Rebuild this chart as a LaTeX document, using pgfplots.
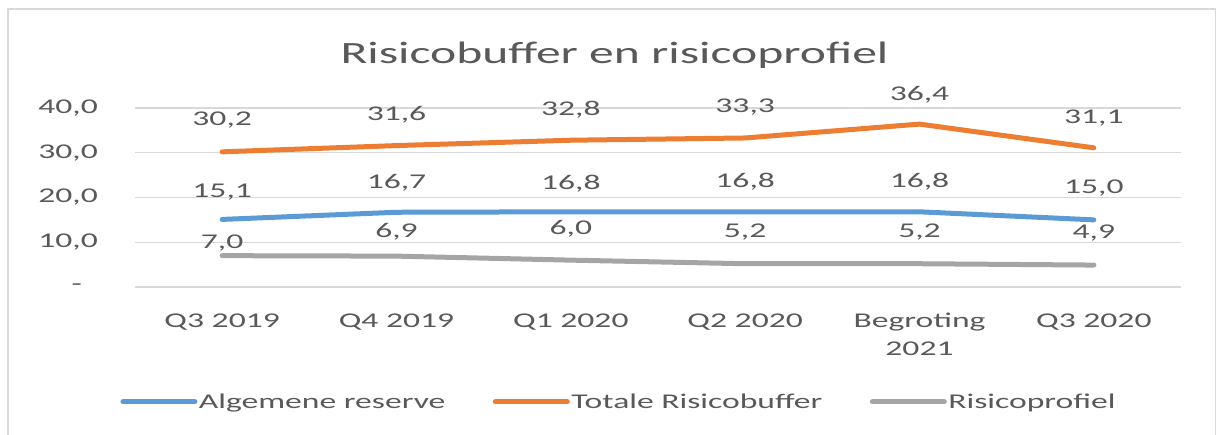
\documentclass[border=0pt]{standalone}
\usepackage{pgfplots}
\pgfplotsset{compat=1.18}
\usepackage{pgfplotstable}
\usepackage{fontspec}
\setmainfont{Carlito}[FakeStretch=1.6]
\definecolor{cblue}{HTML}{5B9BD5}
\definecolor{corange}{HTML}{ED7D31}
\definecolor{cgray}{HTML}{A5A5A5}
\definecolor{ctext}{HTML}{595959}
\definecolor{cgrid}{HTML}{D9D9D9}

\pgfplotstableread{
x a b c
0 15.1 30.2 7.0
1 16.7 31.6 6.9
2 16.8 32.8 6.0
3 16.8 33.3 5.2
4 16.8 36.4 5.2
5 15.0 31.1 4.9
}\datatable

\pgfplotstableread{
x y lab
0 21.2 15,1
1 23.2 16,7
2 23.2 16,8
3 23.5 16,8
4 23.5 16,8
5 22.1 15,0
}\lblA

\pgfplotstableread{
x y lab
0 37.3 30,2
1 38.4 31,6
2 39.6 32,8
3 40.2 33,3
4 42.9 36,4
5 37.8 31,1
}\lblB

\pgfplotstableread{
x y lab
0 9.8 7,0
1 12.3 6,9
2 13.0 6,0
3 12.3 5,2
4 12.3 5,2
5 12.1 4,9
}\lblC

\newcommand{\st}{\rule{0pt}{16pt}}

\begin{document}
\begin{tikzpicture}
\path[use as bounding box] (0pt,0pt) rectangle (1217pt,435pt);
\draw[cgrid, line width=1.5pt] (8pt,-10pt) -- (8pt,426pt) -- (1215.5pt,426pt) -- (1215.5pt,-10pt);
\node[text=ctext, font=\fontsize{31}{37}\selectfont, inner sep=0pt] at (614.5pt,380pt) {Risicobuffer en risicoprofiel};
\begin{axis}[
  scale only axis, width=1046pt, height=179pt,
  at={(135pt,148pt)}, anchor=south west,
  xmin=-0.5, xmax=5.5, ymin=0, ymax=40,
  xtick={0,1,2,3,4,5},
  xticklabels={\st Q3 2019, \st Q4 2019, \st Q1 2020, \st Q2 2020, \st Begroting\\2021, \st Q3 2020},
  ytick={0,10,20,30,40},
  yticklabels={{-\kern16pt}, {10,0}, {20,0}, {30,0}, {40,0}},
  major tick length=0pt,
  axis line style={draw=none},
  ymajorgrids, grid style={cgrid, line width=1.2pt},
  tick label style={text=ctext, font=\fontsize{21}{28}\selectfont},
  xticklabel style={align=center, anchor=north, yshift=-24pt, inner sep=0pt},
  yticklabel style={anchor=east, inner sep=0pt, xshift=-37pt},
  clip=false,
  legend columns=3,
  legend style={draw=none, fill=none, at={(0.4625,-0.642)}, anchor=center,
    font=\fontsize{21}{25}\selectfont, text=ctext,
    /tikz/every even column/.append style={column sep=46pt},
    nodes={inner sep=1.5pt}},
  legend image code/.code={\draw[#1, line cap=round] (0pt,0pt) -- (72pt,0pt);},
  every axis plot/.append style={line width=5pt, line cap=round, line join=round},
  nodes near coords style={text=ctext, font=\fontsize{21}{25}\selectfont, anchor=center, inner sep=0pt},
]
\addplot[cblue, no marks] table[x=x, y=a] {\datatable};
\addlegendentry{Algemene reserve}
\addplot[corange, no marks] table[x=x, y=b] {\datatable};
\addlegendentry{Totale Risicobuffer}
\addplot[cgray, no marks] table[x=x, y=c] {\datatable};
\addlegendentry{Risicoprofiel}

\addplot[draw=none, no marks, forget plot, nodes near coords, point meta=explicit symbolic] table[x=x, y=y, meta=lab] {\lblA};
\addplot[draw=none, no marks, forget plot, nodes near coords, point meta=explicit symbolic] table[x=x, y=y, meta=lab] {\lblB};
\addplot[draw=none, no marks, forget plot, nodes near coords, point meta=explicit symbolic] table[x=x, y=y, meta=lab] {\lblC};
\end{axis}
\end{tikzpicture}
\end{document}
